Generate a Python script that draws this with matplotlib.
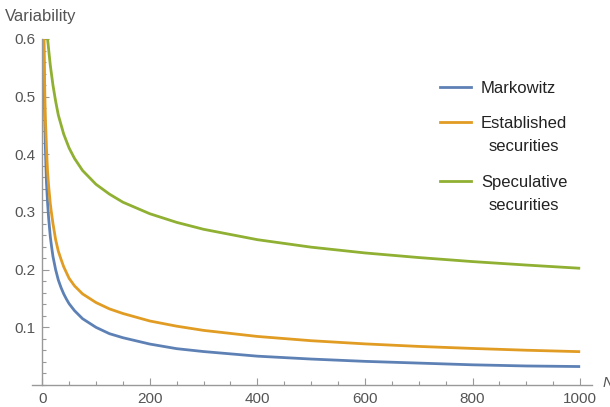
import matplotlib
matplotlib.use("Agg")
import matplotlib.pyplot as plt
from matplotlib.lines import Line2D
from matplotlib.ticker import MultipleLocator

plt.rcParams['font.family'] = ['Liberation Sans', 'DejaVu Sans']

# values (n, variability)
n_markowitz = [1, 2, 3, 4, 5, 6, 7, 8, 9, 10, 12, 15, 17, 20, 25, 30, 35, 40, 45, 50,
               60, 75, 100, 125, 150, 200, 250, 300, 400, 500, 600, 700, 800, 900, 1000]
v_markowitz = [1.0, 0.71, 0.58, 0.50, 0.45, 0.41, 0.378, 0.35, 0.333, 0.316, 0.289,
               0.258, 0.243, 0.223, 0.2, 0.182, 0.169, 0.158, 0.149, 0.141, 0.129,
               0.115, 0.100, 0.089, 0.082, 0.071, 0.063, 0.058, 0.050, 0.045, 0.041,
               0.038, 0.035, 0.033, 0.032]

n_established = n_markowitz
v_established = [0.98, 0.74, 0.62, 0.55, 0.50, 0.46, 0.437, 0.41, 0.39, 0.37, 0.345,
                 0.315, 0.30, 0.28, 0.252, 0.232, 0.218, 0.205, 0.195, 0.185, 0.172,
                 0.158, 0.143, 0.132, 0.124, 0.111, 0.102, 0.0947, 0.0842, 0.0768,
                 0.0713, 0.0669, 0.0634, 0.0603, 0.0578]

n_speculative = [8, 10, 12, 15, 20, 25, 30, 40, 50, 60, 75, 100, 125, 150, 200, 250,
                 300, 400, 500, 600, 700, 800, 900, 1000]
v_speculative = [0.635, 0.60, 0.582, 0.555, 0.52, 0.492, 0.468, 0.435, 0.411, 0.393,
                 0.372, 0.348, 0.331, 0.317, 0.297, 0.282, 0.270, 0.252, 0.239, 0.229,
                 0.221, 0.214, 0.208, 0.2024]

labels = ["Markowitz", "Established\nsecurities", "Speculative\nsecurities"]
colors = ["#5E81B5", "#E19C24", "#8FB032"]

axis_col = "#999999"
text_col = "#555555"

fig = plt.figure(figsize=(6.1, 4.07), dpi=100)
W, H = 610.0, 407.0
ax = fig.add_axes([31.7 / W, 22 / H, (592 - 31.7) / W, (385 - 39) / H])

series = [(n_markowitz, v_markowitz), (n_established, v_established),
          (n_speculative, v_speculative)]
for (xs, ys), c in zip(series, colors):
    ax.plot(xs, ys, color=c, lw=2.0, solid_capstyle='butt')

ax.set_xlim(-19.5, 1022)
ax.set_ylim(0, 0.6)

for s in ['top', 'right']:
    ax.spines[s].set_visible(False)
ax.spines['left'].set_position(('data', 0))
for s in ['left', 'bottom']:
    ax.spines[s].set_color(axis_col)
    ax.spines[s].set_linewidth(1.0)

ax.set_xticks([0, 200, 400, 600, 800, 1000])
ax.xaxis.set_minor_locator(MultipleLocator(50))
ax.set_yticks([0.1, 0.2, 0.3, 0.4, 0.5, 0.6])
ax.set_yticklabels(["0.1", "0.2", "0.3", "0.4", "0.5", "0.6"])
ax.yaxis.set_minor_locator(MultipleLocator(0.02))
ax.tick_params(which='major', direction='in', length=5, width=0.8, color=axis_col,
               labelcolor=text_col, labelsize=11)
ax.tick_params(which='minor', direction='in', length=3, width=0.8, color=axis_col)
ax.tick_params(axis='y', pad=5)
ax.tick_params(axis='x', pad=5)

fig.text(5 / W, 1 - 17 / H, "Variability", color=text_col, fontsize=12, va='center', ha='left')
fig.text(603 / W, 1 - 383 / H, "N", color=text_col, fontsize=11, style='italic',
         va='center', ha='left')

# legend drawn by hand so the handle sits on the first text line
leg_y = [87, 122, 181]
for y, c, lab in zip(leg_y, colors, labels):
    fig.add_artist(Line2D([440 / W, 471 / W], [1 - y / H, 1 - y / H], color=c, lw=2.0,
                          transform=fig.transFigure))
    t = fig.text(481 / W, 1 - (y - 6) / H, lab, color='#222222', fontsize=12,
                 va='top', ha='left', linespacing=1.65)
    t.set_multialignment('center')

fig.savefig("out.png", dpi=100)
